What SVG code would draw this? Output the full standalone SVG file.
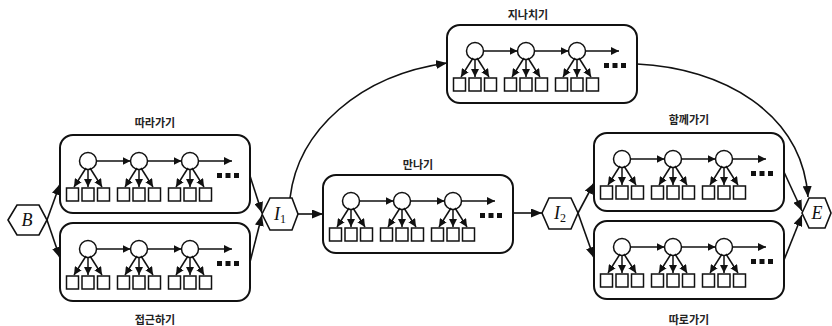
<svg xmlns="http://www.w3.org/2000/svg" xmlns:xlink="http://www.w3.org/1999/xlink" width="832" height="326" viewBox="0 0 832 326">
<style>
.box{fill:#fff;stroke:#111;stroke-width:2}
.hex{fill:#fff;stroke:#111;stroke-width:1.6}
.c{fill:#fff;stroke:#111;stroke-width:1.5}
.sq{fill:#fff;stroke:#111;stroke-width:1.5}
.ln{fill:none;stroke:#111;stroke-width:1.6;marker-end:url(#ah)}
.sl{fill:none;stroke:#111;stroke-width:1.5;marker-end:url(#sh)}
.lbl{font-family:"Noto Sans CJK KR","Noto Sans",sans-serif;font-size:11px;font-weight:bold;fill:#222;text-anchor:middle}
.var{font-family:"Liberation Serif",serif;font-size:18px;font-style:italic;fill:#111;text-anchor:middle}
.sub{font-style:normal;font-size:12px}
</style>
<defs>
<marker id="ah" markerUnits="userSpaceOnUse" markerWidth="12" markerHeight="9" refX="11" refY="4.5" orient="auto"><path d="M0,0 L11,4.5 L0,9 z" fill="#111"/></marker>
<marker id="sh" markerUnits="userSpaceOnUse" markerWidth="9" markerHeight="8" refX="8" refY="4" orient="auto"><path d="M0,0 L8,4 L0,8 z" fill="#111"/></marker>
<g id="unit">
<circle class="c" cx="0" cy="26" r="8.5"/>
<path class="sl" d="M-2,33 L-14,52"/>
<path class="sl" d="M0,34.5 L0,52"/>
<path class="sl" d="M2,33 L14,52"/>
<rect class="sq" x="-21.5" y="53" width="12" height="13"/>
<rect class="sq" x="-6" y="53" width="12" height="13"/>
<rect class="sq" x="9.5" y="53" width="12" height="13"/>
</g>
<g id="chain">
<rect class="box" x="0" y="0" width="190" height="78" rx="13"/>
<use xlink:href="#unit" x="28"/>
<use xlink:href="#unit" x="79"/>
<use xlink:href="#unit" x="130"/>
<path class="sl" d="M36.5,26 L70.5,26"/>
<path class="sl" d="M87.5,26 L121.5,26"/>
<path class="sl" d="M138.5,26 L172,26"/>
<rect x="157" y="38" width="5" height="5" fill="#111"/>
<rect x="165.5" y="38" width="5" height="5" fill="#111"/>
<rect x="174" y="38" width="5" height="5" fill="#111"/>
</g>
</defs>

<g id="connectors">
<path class="ln" d="M47,220 L60,184"/>
<path class="ln" d="M47,220 L60,258"/>
<path class="ln" d="M250,176 L262,213"/>
<path class="ln" d="M250,262 L262,215"/>
<path class="ln" d="M298,214 L323,214"/>
<path class="ln" d="M290,198 C298,130 360,75 447,63"/>
<path class="ln" d="M637,64 C722,68 802,112 808,197"/>
<path class="ln" d="M513,213 L542,213"/>
<path class="ln" d="M578,213 L594,183"/>
<path class="ln" d="M578,213 L594,258"/>
<path class="ln" d="M784,172 L802,211"/>
<path class="ln" d="M784,260 L802,215"/>
</g>

<g id="node-B">
<polygon class="hex" points="8,220 17,205 39,205 47,220 39,235 17,235"/>
<text class="var" x="27" y="226">B</text>
</g>
<g id="node-I1">
<polygon class="hex" points="262,214 270,198 292,198 298,214 292,230 270,230"/>
<text class="var" x="280" y="220">I<tspan class="sub" dy="3">1</tspan></text>
</g>
<g id="node-I2">
<polygon class="hex" points="542,213 549,198 571,198 578,213 571,229 549,229"/>
<text class="var" x="560" y="219">I<tspan class="sub" dy="3">2</tspan></text>
</g>
<g id="node-E">
<polygon class="hex" points="802,213 809,198 825,198 831,213 825,228 809,228"/>
<text class="var" x="817" y="219">E</text>
</g>

<g id="node-follow">
<use xlink:href="#chain" x="60" y="135"/>
<text class="lbl" x="155" y="127">따라가기</text>
</g>
<g id="node-approach">
<use xlink:href="#chain" x="60" y="223"/>
<text class="lbl" x="155" y="324">접근하기</text>
</g>
<g id="node-meet">
<use xlink:href="#chain" x="323" y="175"/>
<text class="lbl" x="418" y="169">만나기</text>
</g>
<g id="node-pass">
<use xlink:href="#chain" x="447" y="25"/>
<text class="lbl" x="528" y="19">지나치기</text>
</g>
<g id="node-together">
<use xlink:href="#chain" x="594" y="133"/>
<text class="lbl" x="689" y="124">함께가기</text>
</g>
<g id="node-apart">
<use xlink:href="#chain" x="594" y="221"/>
<text class="lbl" x="689" y="324">따로가기</text>
</g>
</svg>
